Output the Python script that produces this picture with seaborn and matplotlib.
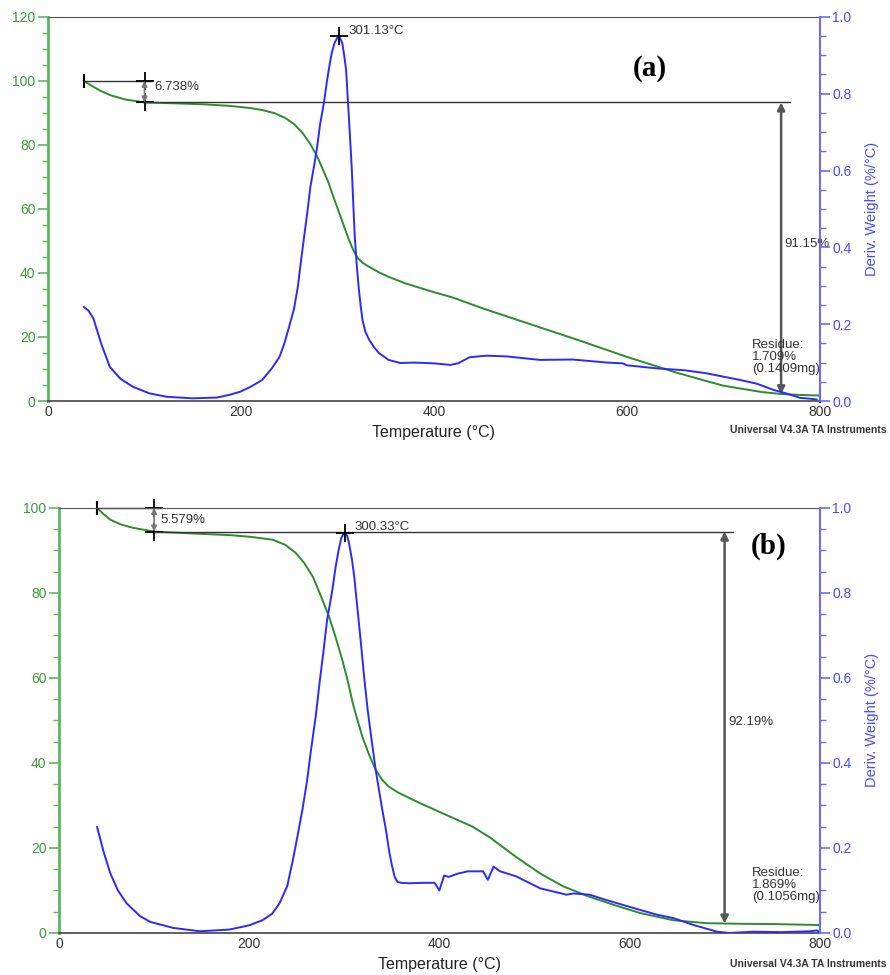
import matplotlib
matplotlib.use("Agg")
from matplotlib import pyplot as plt
from matplotlib.ticker import MultipleLocator, FormatStrFormatter
import seaborn as sns

# ---- panel (a): weight (%) and derivative weight (%/°C) vs temperature ----
temp_tga_a = [37, 45, 55, 65, 80, 100, 130, 160, 188, 210,
              222, 235, 246, 255, 264, 272, 279, 285, 291, 296,
              302, 307, 312, 317, 321, 326, 333, 343, 353, 370,
              400, 420, 450, 500, 550, 600, 650, 683, 700, 740,
              760, 780, 800]
weight_a = [100, 98.5, 96.8, 95.5, 94.2, 93.26, 93.0, 92.7, 92.2, 91.5,
            90.9, 89.9, 88.4, 86.5, 83.7, 80.2, 76.4, 72.3, 68.0, 63.6,
            58.7, 54.5, 50.3, 46.8, 44.7, 43.2, 41.9, 40.2, 38.8, 36.8,
            34.0, 32.3, 29.0, 24.0, 19.0, 13.8, 9.0, 6.2, 4.8, 2.8,
            2.2, 1.9, 1.709]
temp_dtg_a = [37, 42, 47, 55, 64, 75, 88, 105, 123, 150,
              175, 188, 199, 210, 222, 232, 240, 245, 250, 255,
              259, 262, 265.5, 269, 272, 276, 279, 282, 286, 289,
              291, 294, 297, 300, 302, 305, 307, 309, 311, 313,
              315, 316.5, 318, 320, 322, 324, 326, 329, 333, 338,
              343, 353, 365, 380, 400, 417, 425, 437, 455, 476,
              510, 544, 580, 596, 600, 631, 660, 683, 717, 735,
              752, 765, 780, 790, 797]
deriv_a = [0.245, 0.235, 0.215, 0.15, 0.089, 0.058, 0.037, 0.02, 0.011, 0.007,
           0.009, 0.016, 0.024, 0.037, 0.055, 0.085, 0.115, 0.15, 0.194, 0.24,
           0.298, 0.36, 0.428, 0.495, 0.558, 0.615, 0.662, 0.72, 0.776, 0.83,
           0.862, 0.905, 0.932, 0.946, 0.949, 0.932, 0.9, 0.862, 0.776, 0.69,
           0.60, 0.51, 0.427, 0.355, 0.297, 0.25, 0.211, 0.18, 0.159, 0.14,
           0.125, 0.107, 0.099, 0.1, 0.098, 0.094, 0.098, 0.114, 0.118, 0.116,
           0.107, 0.108, 0.1, 0.098, 0.093, 0.085, 0.08, 0.072, 0.055, 0.045,
           0.029, 0.02, 0.008, 0.006, 0.004]

# ---- panel (b) ----
temp_tga_b = [40, 47, 54, 65, 78, 100, 148, 179, 201, 225,
              238, 249, 258, 267, 275, 284, 291, 298, 304, 309,
              314, 319, 326, 333, 340, 347, 357, 368, 380, 400,
              435, 453, 480, 506, 530, 558, 585, 611, 646, 681,
              720, 751, 800]
weight_b = [100, 98.5, 97.2, 96.1, 95.3, 94.42, 93.9, 93.6, 93.2, 92.5,
            91.3, 89.4, 87.0, 83.8, 79.5, 74.4, 69.5, 64.2, 59.0, 54.0,
            50.0, 46.2, 42.0, 38.4, 36.0, 34.4, 33.0, 31.8, 30.5, 28.5,
            25.0, 22.5, 18.0, 14.0, 11.0, 8.5, 6.5, 4.7, 3.0, 2.3,
            2.15, 2.1, 1.869]
temp_dtg_b = [40, 47, 54, 62, 71, 85, 96, 120, 148, 179,
              200, 214, 224, 232, 240, 246, 251, 256, 261, 265,
              270, 274, 278, 282, 287, 291, 294, 297, 300, 303,
              305, 308, 310.5, 314, 317.5, 321, 324.6, 329, 333, 337,
              340, 344, 347, 350, 353, 356, 360, 368, 385, 395,
              400, 405, 410, 420, 430, 446, 451, 457, 464, 481,
              506, 534, 541, 558, 575, 593, 610, 629, 646, 667,
              692, 705, 730, 760, 790, 797, 800]
deriv_b = [0.25, 0.19, 0.14, 0.1, 0.07, 0.04, 0.026, 0.012, 0.004, 0.008,
           0.018, 0.03, 0.045, 0.07, 0.11, 0.172, 0.23, 0.29, 0.36, 0.43,
           0.51, 0.588, 0.66, 0.737, 0.80, 0.862, 0.90, 0.93, 0.941, 0.935,
           0.917, 0.88, 0.838, 0.76, 0.682, 0.60, 0.525, 0.45, 0.384, 0.33,
           0.29, 0.24, 0.195, 0.16, 0.132, 0.12, 0.118, 0.117, 0.118, 0.118,
           0.10, 0.135, 0.132, 0.14, 0.145, 0.145, 0.125, 0.156, 0.145, 0.133,
           0.105, 0.09, 0.093, 0.09, 0.078, 0.066, 0.055, 0.043, 0.035, 0.019,
           0.003, 0.0, 0.003, 0.002, 0.004, 0.006, 0.002]

# values printed by the instrument software
step_a, loss_a, residue_a, mass_a, peak_a = 6.738, 91.15, 1.709, 0.1409, 301.13
step_b, loss_b, residue_b, mass_b, peak_b = 5.579, 92.19, 1.869, 0.1056, 300.33

GREEN = "#2e8b2e"
GREEN_AX = "#5cb85c"
GREEN_LAB = "#3c9a3c"
BLUE = "#2a2aff"
BLUE_AX = "#6a6aff"
BLUE_LAB = "#4a4aff"
DARK = "#333333"

sns.set_style("white")
plt.rcParams["font.family"] = ["Liberation Sans", "DejaVu Sans"]


def draw_panel(ax, t_w, w, t_d, d, ymax, step, loss, t_loss, residue, mass,
               peak, label, txt):
    ax2 = ax.twinx()
    sns.lineplot(x=t_w, y=w, ax=ax, color=GREEN, lw=1.4, errorbar=None)
    sns.lineplot(x=t_d, y=d, ax=ax2, color=BLUE, lw=1.4, errorbar=None)

    ax.set_xlim(0, 800)
    ax.set_ylim(0, ymax)
    ax2.set_ylim(0, 1.0)

    # axes styling
    ax.xaxis.set_major_locator(MultipleLocator(200))
    ax.xaxis.set_minor_locator(MultipleLocator(50))
    ax.yaxis.set_major_locator(MultipleLocator(20))
    ax.yaxis.set_minor_locator(MultipleLocator(5))
    ax2.yaxis.set_major_locator(MultipleLocator(0.2))
    ax2.yaxis.set_minor_locator(MultipleLocator(0.05))
    ax2.yaxis.set_major_formatter(FormatStrFormatter("%.1f"))
    ax.tick_params(axis="x", which="major", direction="in", length=4,
                   color=DARK, labelcolor=DARK, labelsize=10, pad=3)
    ax.tick_params(axis="x", which="minor", direction="in", length=3, color=DARK)
    ax.tick_params(axis="y", which="major", direction="out", length=7, width=1.2,
                   color=GREEN_AX, labelcolor=GREEN_LAB, labelsize=10, pad=2)
    ax.tick_params(axis="y", which="minor", direction="out", length=4, width=1,
                   color=GREEN_AX)
    ax2.tick_params(axis="y", which="major", direction="out", length=7, width=1.2,
                    color=BLUE_AX, labelcolor=BLUE_LAB, labelsize=10, pad=2)
    ax2.tick_params(axis="y", which="minor", direction="out", length=4, width=1,
                    color=BLUE_AX)
    ax.spines["left"].set_color(GREEN_AX)
    ax.spines["left"].set_linewidth(2)
    ax.spines["right"].set_visible(False)
    ax.spines["top"].set_color("#555555")
    ax.spines["bottom"].set_color("#444444")
    ax.spines["bottom"].set_linewidth(1.2)
    for s in ["left", "top", "bottom"]:
        ax2.spines[s].set_visible(False)
    ax2.spines["right"].set_color(BLUE_AX)
    ax2.spines["right"].set_linewidth(1.5)

    ax.set_xlabel("Temperature (°C)", fontsize=11.5, color="#222222", labelpad=4)
    ax.set_ylabel("")
    ax2.set_ylabel("Deriv. Weight (%/°C)", fontsize=10.5, color=BLUE_LAB,
                   labelpad=10)

    # step annotations
    w0 = w[0]
    w1 = w0 - step
    ax.plot([t_w[0], 108], [w0, w0], color=DARK, lw=1, clip_on=False)
    ax.plot([t_w[0]], [w0], marker="|", ms=10, mew=1.5, color="k", clip_on=False)
    ax.plot([100, 100], [w0, w1], ls="none", marker="+", ms=13, mew=1.3,
            color="k", clip_on=False)
    ax.annotate("", xy=(100, w1), xytext=(100, w0),
                arrowprops=dict(arrowstyle="<|-|>", color="#777777", lw=1.2,
                                mutation_scale=8, shrinkA=0, shrinkB=0))
    ax.text(txt["step"][0], txt["step"][1], f"{step}%", fontsize=9.5,
            color=DARK, va="center", ha="left")

    ax.plot([100, t_loss + 9], [w1, w1], color=DARK, lw=1)
    ax.annotate("", xy=(t_loss, w1 - loss), xytext=(t_loss, w1),
                arrowprops=dict(arrowstyle="<|-|>", color="#555555", lw=1.8,
                                mutation_scale=11, shrinkA=0, shrinkB=0))
    ax.text(txt["loss"][0], txt["loss"][1], f"{loss}%", fontsize=9.5,
            color=DARK, va="center", ha="left")

    ax.plot([t_w[-1]], [residue], marker="|", ms=10, mew=1.5, color="k",
            clip_on=False)
    ax.text(txt["res"][0], txt["res"][1],
            f"Residue:\n{residue}%\n({mass}mg)", fontsize=9.5, color=DARK,
            va="top", ha="left", linespacing=1.0)

    d_peak = max(d)
    ax2.plot([peak], [d_peak], marker="+", ms=13, mew=1.3, color="k",
             clip_on=False)
    ax2.text(peak + 10, d_peak + 0.015, f"{peak}°C", fontsize=9.5,
             color=DARK, va="center", ha="left")

    ax.text(txt["lab"][0], txt["lab"][1], label, fontsize=21, weight="bold",
            family="Liberation Serif", va="center", ha="center", color="k")
    return ax2


fig = plt.figure(figsize=(8.9, 9.75), dpi=100)
ax_a = fig.add_axes([0.054, 0.5887, 0.867, 0.394])
ax_b = fig.add_axes([0.0663, 0.0431, 0.8547, 0.436])

draw_panel(ax_a, temp_tga_a, weight_a, temp_dtg_a, deriv_a, 120, step_a,
           loss_a, 760, residue_a, mass_a, peak_a, "(a)",
           {"step": (110, 98.0), "loss": (763, 49), "res": (730, 19.5),
            "lab": (624, 104)})
draw_panel(ax_b, temp_tga_b, weight_b, temp_dtg_b, deriv_b, 100, step_b,
           loss_b, 700, residue_b, mass_b, peak_b, "(b)",
           {"step": (107, 97.2), "loss": (704, 49.6), "res": (729, 15.5),
            "lab": (746, 91)})

fig.text(730 / 890, 1 - 430 / 975, "Universal V4.3A TA Instruments",
         fontsize=7.5, weight="bold", color=DARK, va="center", ha="left")
fig.text(730 / 890, 1 - 964 / 975, "Universal V4.3A TA Instruments",
         fontsize=7.5, weight="bold", color=DARK, va="center", ha="left")

fig.savefig("out.png", dpi=100, facecolor="white")
